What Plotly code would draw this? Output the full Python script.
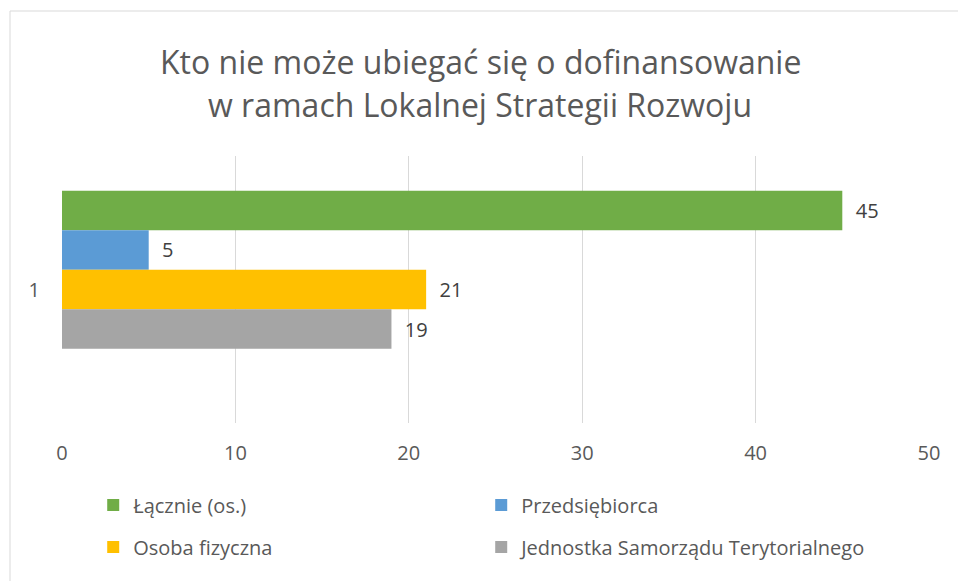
import plotly.graph_objects as go

TITLE_LINES = ["Kto nie może ubiegać się o dofinansowanie",
               "w ramach Lokalnej Strategii Rozwoju"]
CATEGORIES = ["1"]
SERIES_NAMES = ["Łącznie (os.)", "Przedsiębiorca", "Osoba fizyczna",
                "Jednostka Samorządu Terytorialnego"]
SERIES_VALUES = [[45], [5], [21], [19]]
SERIES_COLORS = ["#70AD47", "#5B9BD5", "#FFC000", "#A5A5A5"]
X_TICKS = [0, 10, 20, 30, 40, 50]

FONT = "Open Sans"
TEXT = "#595959"
FS = 20

fig = go.Figure()
bar_w = 0.148
start = -0.37
for i, (name, vals, col) in enumerate(zip(SERIES_NAMES, SERIES_VALUES, SERIES_COLORS)):
    fig.add_trace(go.Bar(
        y=CATEGORIES, x=vals, name=name, orientation="h",
        marker=dict(color=col, line=dict(width=0)),
        width=bar_w, offset=start + i * bar_w,
        text=[str(v) for v in vals], textposition="outside",
        texttemplate="  %{x}",
        textfont=dict(family=FONT, size=FS, color="#404040"),
        cliponaxis=False,
        legend="legend" if i < 2 else "legend2",
    ))

LEG_X = 0.036
fig.update_layout(
    width=958, height=581,
    margin=dict(l=62, r=29, t=156, b=158),
    paper_bgcolor="white", plot_bgcolor="white",
    font=dict(family=FONT, size=FS, color=TEXT),
    showlegend=True,
    barmode="overlay",
    xaxis=dict(range=[0, 50], tickvals=X_TICKS, showgrid=True, gridcolor="#D9D9D9",
               gridwidth=1, zeroline=False, showline=False, ticks="",
               tickfont=dict(family=FONT, size=FS, color=TEXT), ticklabelstandoff=16),
    yaxis=dict(type="category", autorange="reversed", showgrid=False, zeroline=False,
               showline=False, ticks="", ticklabelstandoff=21,
               tickfont=dict(family=FONT, size=FS, color=TEXT)),
    legend=dict(orientation="h", x=LEG_X, y=-(505 - 423) / 267, xanchor="left", yanchor="middle",
                entrywidth=343, entrywidthmode="pixels", itemwidth=30,
                font=dict(family=FONT, size=FS, color=TEXT), bgcolor="rgba(0,0,0,0)"),
    legend2=dict(orientation="h", x=LEG_X, y=-(547 - 423) / 267, xanchor="left", yanchor="middle",
                 entrywidth=343, entrywidthmode="pixels", itemwidth=30,
                 font=dict(family=FONT, size=FS, color=TEXT), bgcolor="rgba(0,0,0,0)"),
)

title_y = [61, 104]
for line, yy in zip(TITLE_LINES, title_y):
    fig.add_annotation(text=line, xref="paper", yref="paper", x=(480 - 62) / 867,
                       y=1 + (156 - yy) / 267, xanchor="center", yanchor="middle",
                       showarrow=False, font=dict(family=FONT, size=32, color=TEXT))

# chart frame
fig.add_shape(type="rect", xref="paper", yref="paper",
              x0=(10 - 62) / 867, x1=1 + 40 / 867, y0=-(158 + 40) / 267, y1=1 + (156 - 11) / 267,
              line=dict(color="#D9D9D9", width=1), layer="below")

fig.write_html("out.html", config={"displayModeBar": False},
               post_script="document.body.style.margin='0';")
